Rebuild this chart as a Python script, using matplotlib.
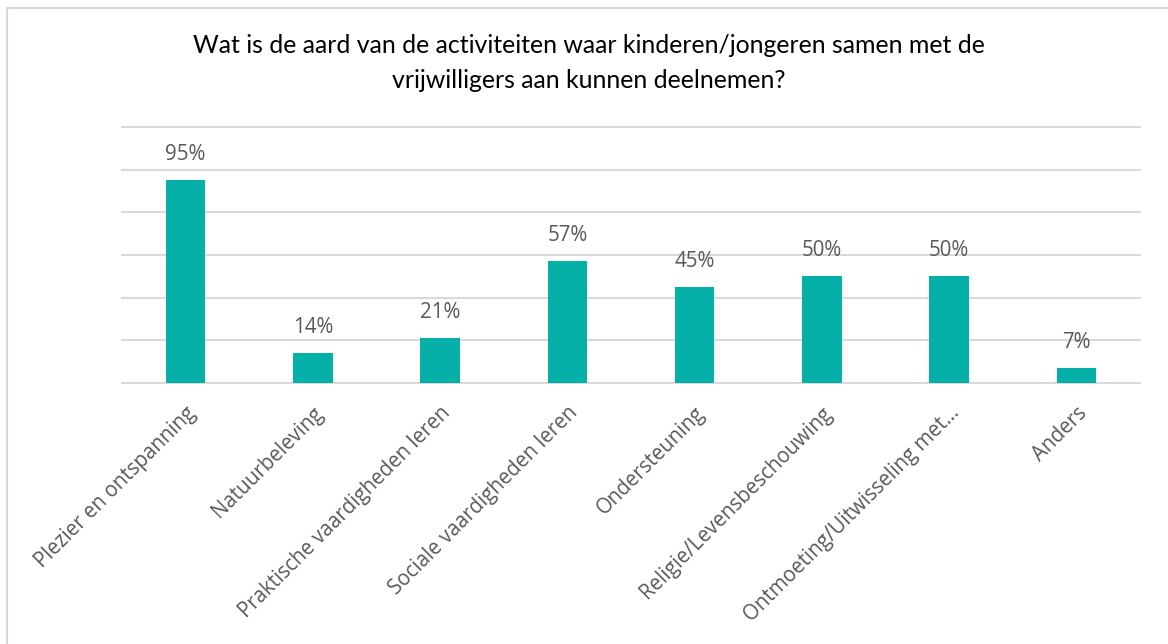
import matplotlib
matplotlib.use("Agg")
import matplotlib.pyplot as plt
from matplotlib.lines import Line2D

categories = ["Plezier en ontspanning", "Natuurbeleving", "Praktische vaardigheden leren",
              "Sociale vaardigheden leren", "Ondersteuning", "Religie/Levensbeschouwing",
              "Ontmoeting/Uitwisseling met…", "Anders"]
values = [95, 14, 21, 57, 45, 50, 50, 7]
title = "Wat is de aard van de activiteiten waar kinderen/jongeren samen met de\nvrijwilligers aan kunnen deelnemen?"

W, H = 1168, 644
fig = plt.figure(figsize=(W/100, H/100), dpi=100)
ax = fig.add_axes([122/W, 1-383/H, (1140-122)/W, (383-127)/H])

bar_color = "#05B0A9"
text_color = "#595959"
grid_color = "#D9D9D9"

x = list(range(len(categories)))
bars = ax.bar(x, values, width=0.31, color=bar_color, zorder=3)
ax.set_xlim(-0.5, len(categories)-0.5)
ax.set_ylim(0, 120)
ax.set_yticks(range(0, 121, 20))
ax.yaxis.grid(True, color=grid_color, linewidth=1.5, zorder=0)
for gl in ax.get_ygridlines():
    gl.set_clip_on(False)
ax.tick_params(axis='y', left=False, labelleft=False)
ax.tick_params(axis='x', bottom=False, length=0, pad=14)
for s in ax.spines.values():
    s.set_visible(False)

for xi, v in zip(x, values):
    ax.annotate(f"{v}%", (xi, v), xytext=(0, 11), textcoords="offset points",
                ha="center", va="bottom", fontsize=14.8, color=text_color, family="Open Sans")

ax.set_xticks(x)
ax.set_xticklabels(categories, rotation=45, ha="right", va="top", rotation_mode="anchor",
                   fontsize=14.8, color=text_color, family="Open Sans")

fig.text(589/W, 1-63/H, title, ha="center", va="center", fontsize=17.9, color="#000000",
         family=["Lato", "DejaVu Sans"], linespacing=1.6)

fig.add_artist(Line2D([7/W, 7/W], [0, 1-7.5/H], transform=fig.transFigure, color=grid_color, linewidth=1.5))
fig.add_artist(Line2D([7/W, 1], [1-7.5/H, 1-7.5/H], transform=fig.transFigure, color=grid_color, linewidth=1.5))

fig.savefig("out.png", dpi=100, facecolor="white")
